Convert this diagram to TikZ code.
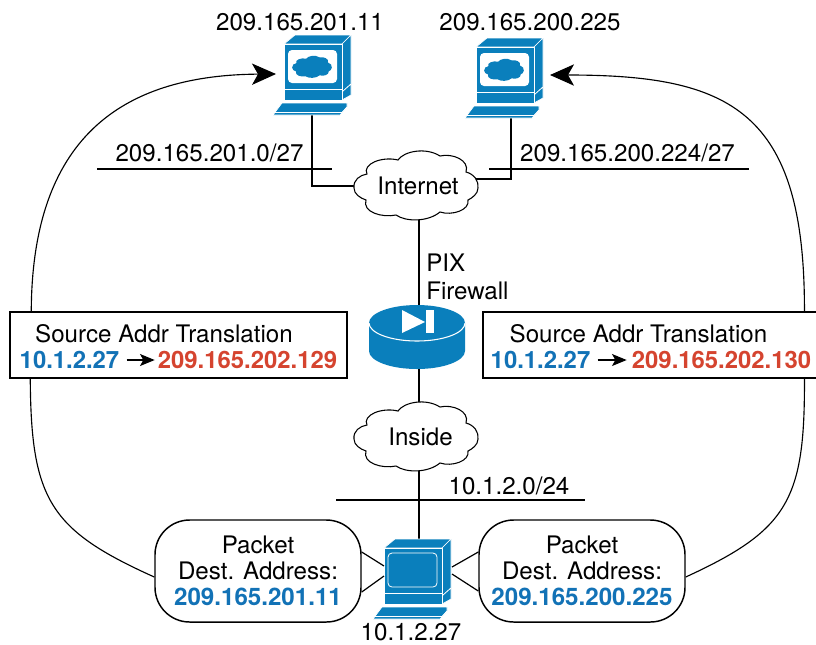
\documentclass[tikz,border=0pt]{standalone}
\usepackage{fontspec}
\setmainfont{TeX Gyre Heros}
\usetikzlibrary{arrows.meta,calc}
\definecolor{ciscoblue}{HTML}{0A7FBC}
\definecolor{addrblue}{HTML}{1272B6}
\definecolor{addrred}{HTML}{D5442F}
\tikzset{
  x=0.75pt,y=-0.75pt,
  wire/.style={draw=black,line width=0.9pt},
  lbl/.style={font=\fontsize{18.1}{20}\selectfont,inner sep=0pt,anchor=center},
  blbl/.style={font=\fontsize{17.9}{20}\selectfont,inner sep=0pt,anchor=center},
  addrbox/.style={draw=black,line width=1.1pt,fill=white,minimum height=49.5pt,inner sep=0pt},
  pktbox/.style={draw=black,line width=1.1pt,fill=white,rounded corners=26pt,minimum width=154.5pt,minimum height=76.5pt,inner sep=0pt,align=center,font=\fontsize{18.1}{19.5}\selectfont},
  flow/.style={draw=black,line width=0.85pt},
  bigtip/.style={-{Stealth[length=18pt,width=16pt,inset=4.5pt]}},
  smalltip/.style={line width=0.8pt,-{Stealth[length=11pt,width=9pt,inset=2.5pt]}},
  bluef/.style={fill=ciscoblue,draw=white,line width=0.5pt,line join=round},
  pt/.style={inner sep=0pt,minimum size=0pt},
}
\newcommand{\pcbody}[1]{% origin: top-left of monitor front
  \begin{scope}[shift={#1}]
    \path[bluef] (0,0) -- (11,-9) -- (67,-9) -- (58,0) -- cycle;
    \path[bluef] (58,0) -- (67,-9) -- (67,40) -- (58,48) -- cycle;
    \path[bluef] (58,48) -- (67,40) -- (67,51) -- (58,56) -- cycle;
    \path[bluef] (0,0) rectangle (58,45);
    \path[bluef] (0,45) rectangle (58,56);
    \path[bluef] (-11,71) -- (-2,59) -- (63,59) -- (63,63) -- (56,71) -- cycle;
    \draw[white,line width=0.5pt] (-11,68.5) -- (58,68.5) -- (63,63);
  \end{scope}}
\newcommand{\cloudpath}{(-62,2) .. controls (-63,-6) and (-56,-11) .. (-49,-12)
  .. controls (-54,-22) and (-34,-30) .. (-18,-26)
  .. controls (-12,-35) and (10,-39) .. (24,-30)
  .. controls (36,-33) and (54,-26) .. (50,-14)
  .. controls (58,-12) and (63,-5) .. (62,2)
  .. controls (62,8) and (56,12) .. (52,14)
  .. controls (54,24) and (36,30) .. (24,26)
  .. controls (12,36) and (-10,36) .. (-20,29)
  .. controls (-34,32) and (-54,26) .. (-50,14)
  .. controls (-56,12) and (-62,8) .. (-62,2) -- cycle}
\newcommand{\bl}[1]{\textcolor{addrblue}{\bfseries #1}}
\newcommand{\rd}[1]{\textcolor{addrred}{\bfseries #1}}
\begin{document}
\begin{tikzpicture}
\useasboundingbox (0,0) rectangle (816,644);
% network lines
\node[pt] (netLa) at (97,169) {};
\node[pt] (netLb) at (332,169) {};
\node[pt] (netRa) at (489,169) {};
\node[pt] (netRb) at (749,169) {};
\node[pt] (netBa) at (336,500) {};
\node[pt] (netBb) at (585,500) {};
\draw[wire] (netLa) -- (netLb);
\draw[wire] (netRa) -- (netRb);
\draw[wire] (netBa) -- (netBb);
% clouds
\node[pt] (cloudI) at (416,186) {};
\node[pt] (cloudS) at (416,437) {};
\coordinate (pcLc) at (312,115);
\coordinate (pcRc) at (511,118);
\coordinate (pcBc) at (419,539);
\coordinate (fwT) at (419,305);
\coordinate (fwB) at (419,369);
\draw[wire] (pcLc) |- ($(cloudI)+(-62,0)$);
\draw[wire] (pcRc) |- ($(cloudI)+(58,-7)$);
\draw[wire] ($(cloudI)+(3,30)$) -- (fwT);
\draw[wire] (fwB) -- ($(cloudS)+(3,-32)$);
\draw[wire] ($(cloudS)+(3,30)$) -- (pcBc);
\path[draw=black,fill=white,line width=0.8pt,shift={(cloudI)}] \cloudpath;
\path[draw=black,fill=white,line width=0.8pt,shift={(cloudS)}] \cloudpath;
\node[lbl] (tI) at (418,186) {Internet};
\node[lbl] (tS) at (420.5,437) {Inside};
% firewall
\path[fill=ciscoblue] (369,323) -- (369,351) arc[start angle=180,end angle=0,x radius=48,y radius=18] -- (465,323) -- cycle;
\path[fill=ciscoblue] (417,323) ellipse[x radius=48,y radius=18];
\draw[white,line width=0.8pt] (369,323) arc[start angle=180,end angle=0,x radius=48,y radius=18];
\path[fill=white] (402,310) -- (402,333) -- (425,322) -- cycle;
\path[fill=white] (426,310) rectangle (434,333);
% PCs
\pcbody{(284,44)}
\pcbody{(476,47)}
\pcbody{(384,548)}
\foreach \ox/\oy in {284/44,476/47}{
  \begin{scope}[shift={(\ox,\oy)}]
    \path[fill=white,rounded corners=3pt] (4,6) rectangle (53,39);
    \begin{scope}[shift={(28,23)},scale=0.32]
      \path[fill=ciscoblue] \cloudpath;
    \end{scope}
  \end{scope}}
\path[draw=white,line width=0.6pt,rounded corners=3pt] (388,553) rectangle (437,587);
% address boxes
\node[addrbox,minimum width=252.75pt] (srcL) at (178.5,345) {};
\node[addrbox,minimum width=254pt] (srcR) at (652.5,345) {};
\node[lbl] (srcLt) at (164,333.5) {Source Addr Translation};
\node[lbl] (srcRt) at (638.5,333.5) {Source Addr Translation};
\node[blbl] (srcLb) at (69.5,360) {\bl{10.1.2.27}};
\node[blbl] (srcLc) at (247.5,360) {\rd{209.165.202.129}};
\node[blbl] (srcRb) at (540.5,360) {\bl{10.1.2.27}};
\node[blbl] (srcRc) at (721.5,360) {\rd{209.165.202.130}};
\draw[smalltip] ($(srcLb.east)+(7,0)$) -- ($(srcLc.west)+(-3,0)$);
\draw[smalltip] ($(srcRb.east)+(7,0)$) -- ($(srcRc.west)+(-5,0)$);
% packet boxes
\node[pktbox] (pktL) at (258,571) {Packet\\Dest. Address:\\\bl{209.165.201.11}};
\node[pktbox] (pktR) at (582,571) {Packet\\Dest. Address:\\\bl{209.165.200.225}};
\coordinate (pcBl) at (384,571);
\coordinate (pcBr) at (452,571);
\draw[wire] ($(pktL.east)+(0,-19)$) -- ($(pcBl)+(0,-5)$);
\draw[wire] ($(pktL.east)+(0,21)$) -- ($(pcBl)+(0,5)$);
\draw[wire] ($(pktR.west)+(0,-19)$) -- ($(pcBr)+(0,-4)$);
\draw[wire] ($(pktR.west)+(0,20)$) -- ($(pcBr)+(0,3)$);
% labels
\node[lbl] (aL) at (300,22) {209.165.201.11};
\node[lbl] (aR) at (530,22) {209.165.200.225};
\node[lbl] (nL) at (209.5,153) {209.165.201.0/27};
\node[lbl] (nR) at (627.5,153) {209.165.200.224/27};
\node[lbl,anchor=west] (pix) at (426,263) {PIX};
\node[lbl,anchor=west] (fw) at (426,291) {Firewall};
\node[lbl] (nB) at (509,486) {10.1.2.0/24};
\node[lbl] (aB) at (411,632) {10.1.2.27};
% flows
\coordinate (hL) at (276,74);
\coordinate (hR) at (550,75);
\draw[flow,bigtip] ($(srcL.north west)+(22,0)$) .. controls (32,130) and (130,75) .. (hL);
\draw[flow,bigtip] ($(srcR.north west)+(322,0)$) .. controls (805,110) and (730,75) .. (hR);
\draw[flow] ($(srcL.south west)+(21,0)$) .. controls (31,500) and (50,530) .. ($(pktL.west)+(0,6)$);
\draw[flow] ($(srcR.south west)+(322,0)$) .. controls (805,500) and (788,530) .. ($(pktR.east)+(0,6)$);
\end{tikzpicture}
\end{document}
